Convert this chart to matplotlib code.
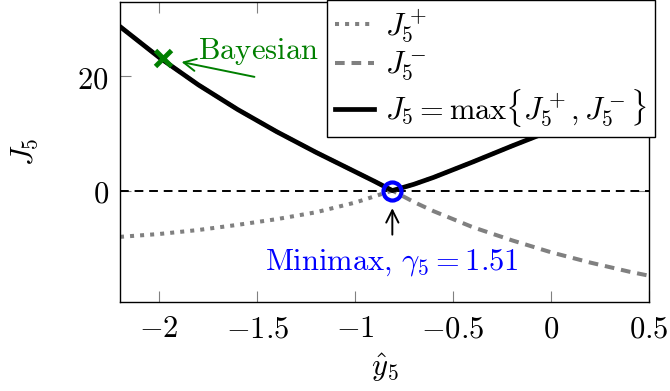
import numpy as np
import matplotlib.pyplot as plt

plt.rcParams['mathtext.fontset'] = 'cm'
plt.rcParams['font.family'] = 'serif'
plt.rcParams['font.size'] = 22

# values
y_hat   = [-2.2, -2.0, -1.8, -1.6, -1.4, -1.2, -1.0, -0.9, -0.81, -0.7, -0.6, -0.4, -0.2, 0.0, 0.2, 0.4, 0.5]
j_plus  = [-8.1, -7.6, -6.9, -6.0, -5.0, -3.8, -2.1, -1.0, 0.0, 1.1, 2.3, 5.0, 7.8, 10.5, 13.3, 16.2, 17.7]
j_minus = [28.7, 23.3, 18.5, 14.2, 10.3, 6.7, 3.3, 1.6, 0.0, -2.0, -3.6, -6.4, -8.7, -10.8, -12.6, -14.2, -14.9]
j_max = np.maximum(j_plus, j_minus)

bayes_x, bayes_j = -1.98, 23.2
minimax_x, minimax_j = -0.81, 0.0

xticks = [-2, -1.5, -1, -0.5, 0, 0.5]
xtick_labels = [r'$-2$', r'$-1.5$', r'$-1$', r'$-0.5$', r'$0$', r'$0.5$']
yticks = [0, 20]
ytick_labels = [r'$0$', r'$20$']

green = '#007f00'
gray = '#808080'

fig = plt.figure(figsize=(6.7, 3.91), dpi=100)
ax = fig.add_axes([120/670, 1 - 302/391, 529/670, 300/391])

ax.axhline(0, color='black', lw=1.4, dashes=(4.5, 3))
ax.plot(y_hat, j_plus, color=gray, lw=2.9, dashes=(1, 1.5), label=r'$J_5^+$')
ax.plot(y_hat, j_minus, color=gray, lw=2.9, dashes=(2.4, 1.7), label=r'$J_5^-$')
ax.plot(y_hat, j_max, color='black', lw=3.4, label=r'$J_5 = \max\{J_5^+, J_5^-\}$')

ax.plot(bayes_x, bayes_j, 'x', color=green, ms=11, mew=3.5, zorder=6)
ax.annotate('', xy=(-1.9, 22.6), xytext=(-1.5, 19.8),
            arrowprops=dict(arrowstyle='->', color=green, lw=1.4))
ax.text(-1.80, 23.0, r'$\mathrm{Bayesian}$', color=green, ha='left', va='baseline')

ax.plot(minimax_x, minimax_j, 'o', mfc='none', mec='blue', ms=13, mew=3, zorder=6)
ax.annotate('', xy=(minimax_x, -2.6), xytext=(minimax_x, -8.2),
            arrowprops=dict(arrowstyle='->', color='black', lw=1.4))
ax.text(minimax_x, -13.9, r'$\mathrm{Minimax,}\,\gamma_5 = 1.51$', color='blue',
        ha='center', va='baseline')

ax.set_xlim(-2.2, 0.5)
ax.set_ylim(-19.5, 33)
ax.set_xticks(xticks)
ax.set_xticklabels(xtick_labels)
ax.set_yticks(yticks)
ax.set_yticklabels(ytick_labels)
ax.tick_params(direction='in', length=8, width=0.8, color=gray, top=True, right=True, pad=8)
for s in ax.spines.values():
    s.set_linewidth(1)

ax.set_xlabel(r'$\hat{y}_5$', labelpad=5)
ax.set_ylabel(r'$J_5$', labelpad=27)

ax.legend(loc='upper right', bbox_to_anchor=(655/670, 1.0), bbox_transform=fig.transFigure,
          borderaxespad=0, fancybox=False, framealpha=1, edgecolor='black',
          handlelength=1.3, handletextpad=0.35, labelspacing=0.15, borderpad=0.25)

fig.savefig('out.png', dpi=100)
